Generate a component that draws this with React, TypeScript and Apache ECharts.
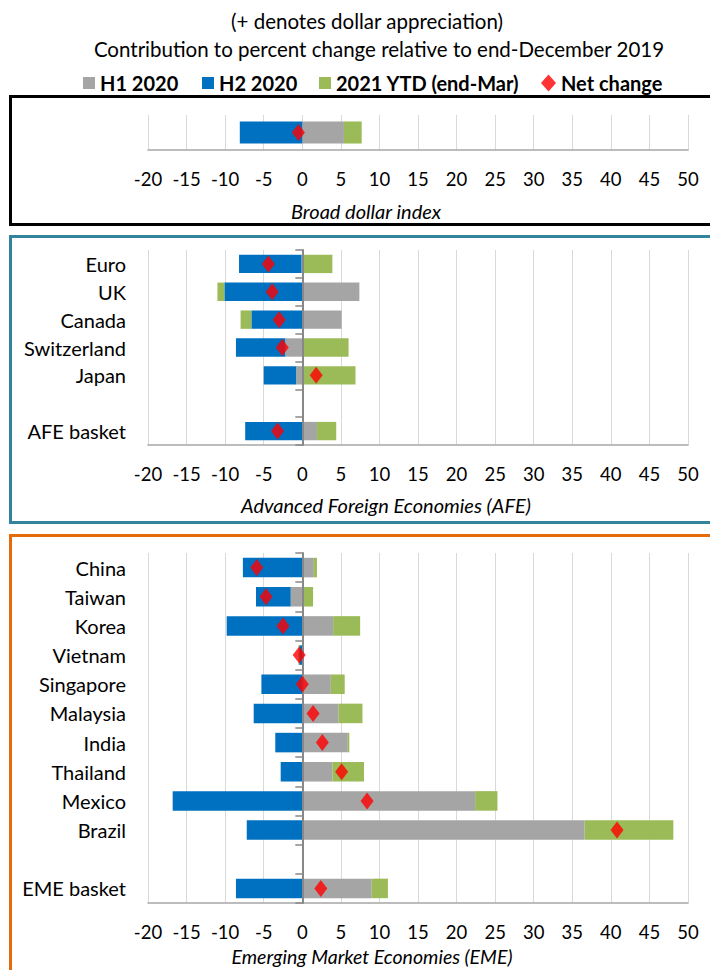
import React, { useEffect, useRef } from "react";
import * as echarts from "echarts";

// ---------- data ----------
const seriesNames = ["H1 2020", "H2 2020", "2021 YTD (end-Mar)", "Net change"];
const xTicksMin = -20;
const xTicksMax = 50;
const xTickStep = 5;

const dollarCategories = ["Broad dollar index"];
const dollarH1 = [5.4];
const dollarH2 = [-8.1];
const dollarYtd = [2.3];
const dollarNet = [-0.5];

const afeCategories = ["Euro", "UK", "Canada", "Switzerland", "Japan", "", "AFE basket"];
const afeH1 = [-0.1, 7.4, 5.1, -2.2, -0.8, null, 1.9];
const afeH2 = [-8.1, -10.1, -6.6, -6.4, -4.2, null, -7.4];
const afeYtd = [3.9, -0.9, -1.4, 6.0, 6.9, null, 2.5];
const afeNet = [-4.4, -3.9, -3.0, -2.6, 1.8, null, -3.2];

const emeCategories = [
  "China", "Taiwan", "Korea", "Vietnam", "Singapore", "Malaysia",
  "India", "Thailand", "Mexico", "Brazil", "", "EME basket",
];
const emeH1 = [1.5, -1.5, 4.0, 0.1, 3.7, 4.7, 5.9, 3.9, 22.4, 36.6, null, 9.0];
const emeH2 = [-7.7, -4.5, -9.8, -0.4, -5.3, -6.3, -3.5, -2.8, -16.8, -7.2, null, -8.6];
const emeYtd = [0.4, 1.4, 3.5, -0.1, 1.8, 3.1, 0.2, 4.1, 2.9, 11.5, null, 2.1];
const emeNet = [-5.9, -4.7, -2.5, -0.4, 0.0, 1.4, 2.6, 5.1, 8.4, 40.8, null, 2.4];

const panelTitles = [
  "Broad dollar index",
  "Advanced Foreign Economies (AFE)",
  "Emerging Market Economies (EME)",
];
const titleLines = [
  "(+ denotes dollar appreciation)",
  "Contribution to percent change relative to end-December 2019",
];

// ---------- styles ----------
const FONT = "Lato";
const COLORS = { h1: "#A5A5A5", h2: "#0070C0", ytd: "#9BBB59", net: "#FF0000" };

export default function App() {
  const ref = useRef<HTMLDivElement>(null);

  useEffect(() => {
    if (!ref.current) return;
    const chart = echarts.init(ref.current, undefined, { renderer: "svg" });

    const panels = [
      { cats: dollarCategories, h1: dollarH1, h2: dollarH2, ytd: dollarYtd, net: dollarNet, top: 115, height: 35, barWidth: "63%", showLabels: false, zeroAxis: false },
      { cats: afeCategories, h1: afeH1, h2: afeH2, ytd: afeYtd, net: afeNet, top: 250, height: 195, barWidth: "66%", showLabels: true, zeroAxis: true },
      { cats: emeCategories, h1: emeH1, h2: emeH2, ytd: emeYtd, net: emeNet, top: 553, height: 350, barWidth: "67%", showLabels: true, zeroAxis: true },
    ];

    const grid: any[] = [];
    const xAxis: any[] = [];
    const yAxis: any[] = [];
    const series: any[] = [];

    panels.forEach((p, i) => {
      grid.push({ left: 148, width: 540, top: p.top, height: p.height, containLabel: false });
      xAxis.push({
        type: "value",
        gridIndex: i,
        min: xTicksMin,
        max: xTicksMax,
        interval: xTickStep,
        axisLine: { show: true, onZero: false, lineStyle: { color: "#A6A6A6", width: 1.5 } },
        axisTick: { show: false },
        axisLabel: { fontSize: 18.5, color: "#000", margin: 19, fontFamily: FONT },
        splitLine: { show: true, lineStyle: { color: "#D9D9D9", width: 1 } },
      });
      const labelAxisIndex = yAxis.length;
      yAxis.push({
        type: "category",
        gridIndex: i,
        data: p.cats,
        inverse: true,
        position: "left",
        axisLine: { show: false, onZero: false },
        axisTick: { show: false },
        axisLabel: { show: p.showLabels, fontSize: 20, color: "#000", margin: 22, fontFamily: FONT },
        splitLine: { show: false },
      });
      if (p.zeroAxis) {
        yAxis.push({
          type: "category",
          gridIndex: i,
          data: p.cats,
          inverse: true,
          position: "left",
          z: 5,
          axisLine: { show: true, onZero: true, lineStyle: { color: "#888888", width: 2 } },
          axisTick: { show: true, length: 7, lineStyle: { color: "#888888", width: 1.5 } },
          axisLabel: { show: false },
          splitLine: { show: false },
        });
      }
      const stack = "stack" + i;
      const common = {
        type: "bar",
        xAxisIndex: i,
        yAxisIndex: labelAxisIndex,
        stack,
        barWidth: p.barWidth,
        z: 2,
      };
      series.push({ ...common, name: seriesNames[0], data: p.h1, itemStyle: { color: COLORS.h1 } });
      series.push({ ...common, name: seriesNames[1], data: p.h2, itemStyle: { color: COLORS.h2 } });
      series.push({ ...common, name: seriesNames[2], data: p.ytd, itemStyle: { color: COLORS.ytd } });
      series.push({
        type: "scatter",
        name: seriesNames[3],
        xAxisIndex: i,
        yAxisIndex: labelAxisIndex,
        symbol: "diamond",
        symbolSize: [13, 17],
        z: 10,
        itemStyle: { color: COLORS.net },
        data: p.net
          .map((v, k) => (v === null ? null : [v, p.cats[k]]))
          .filter((d) => d !== null),
      });
    });

    const legendLefts = [78, 197, 314, 536];
    const legend = seriesNames.map((name, k) => ({
      data: [name],
      left: legendLefts[k],
      top: 68,
      itemWidth: k === 3 ? 15 : 12,
      itemHeight: k === 3 ? 17 : 12,
      icon: k === 3 ? "diamond" : "rect",
      selectedMode: false,
      textStyle: { fontSize: 20, fontWeight: "bold", color: "#000", fontFamily: FONT },
    }));

    const graphic: any[] = [
      { type: "rect", shape: { x: 10.5, y: 96.5, width: 720, height: 128 }, style: { fill: "none", stroke: "#000", lineWidth: 3 }, z: 0 },
      { type: "rect", shape: { x: 10.5, y: 236.5, width: 720, height: 286 }, style: { fill: "none", stroke: "#31849B", lineWidth: 3 }, z: 0 },
      { type: "rect", shape: { x: 10.5, y: 535.5, width: 720, height: 460 }, style: { fill: "none", stroke: "#E46C0A", lineWidth: 3 }, z: 0 },
      { type: "text", x: 367, y: 21, style: { text: titleLines[0], fontSize: 20.5, fontFamily: FONT, fill: "#000", align: "center", verticalAlign: "middle" } },
      { type: "text", x: 379, y: 49, style: { text: titleLines[1], fontSize: 20.5, fontFamily: FONT, fill: "#000", align: "center", verticalAlign: "middle" } },
      { type: "text", x: 366, y: 211, style: { text: panelTitles[0], fontSize: 20, fontStyle: "italic", fontFamily: FONT, fill: "#000", align: "center", verticalAlign: "middle" } },
      { type: "text", x: 386, y: 505, style: { text: panelTitles[1], fontSize: 20, fontStyle: "italic", fontFamily: FONT, fill: "#000", align: "center", verticalAlign: "middle" } },
      { type: "text", x: 372, y: 956, style: { text: panelTitles[2], fontSize: 19.5, fontStyle: "italic", fontFamily: FONT, fill: "#000", align: "center", verticalAlign: "middle" } },
    ];

    chart.setOption({
      animation: false,
      backgroundColor: "#fff",
      textStyle: { fontFamily: FONT },
      grid,
      xAxis,
      yAxis,
      legend,
      series,
      graphic,
    });

    return () => chart.dispose();
  }, []);

  return (
    <div
      ref={ref}
      style={{ position: "absolute", left: 0, top: 0, width: 710, height: 970 }}
    />
  );
}
